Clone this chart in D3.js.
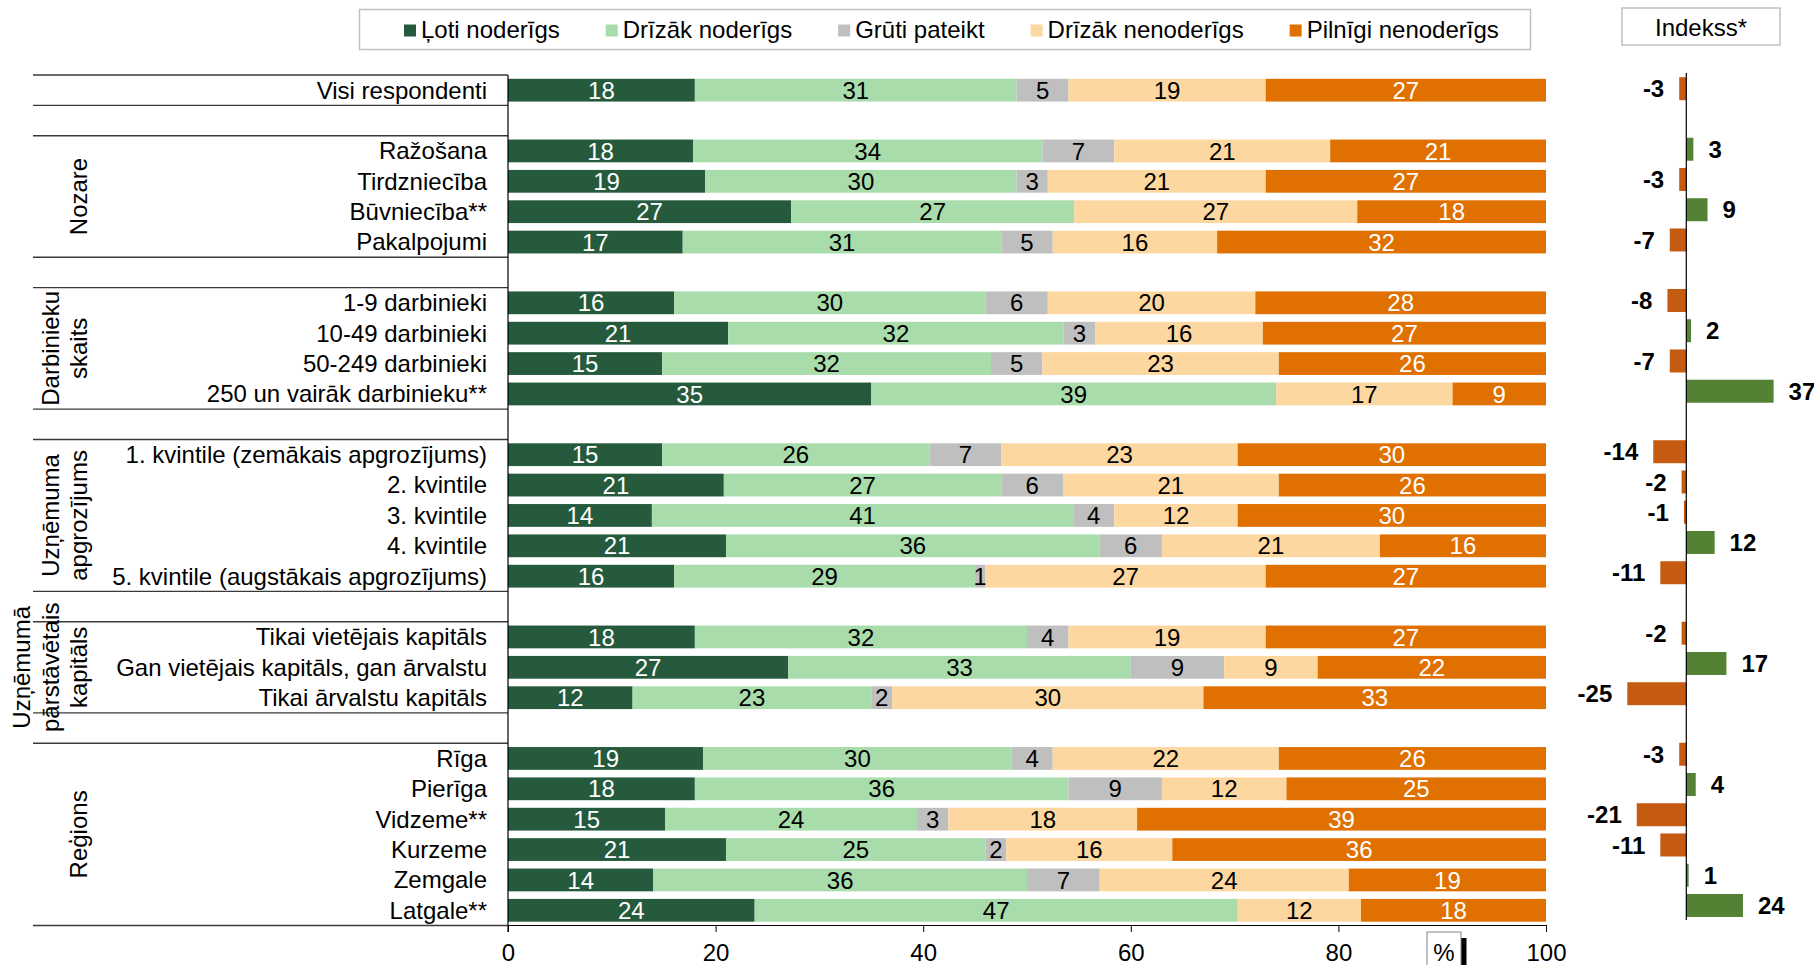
<!DOCTYPE html>
<html><head><meta charset="utf-8">
<script src="https://cdn.jsdelivr.net/npm/d3@7"></script>
<style>
body{margin:0;background:#fff}
svg{display:block}
text{font-family:"Liberation Sans",Arial,sans-serif;fill:#000}
</style>
</head><body>
<svg id="c" width="1814" height="965"></svg>
<script>
// ---------- DATA ----------
const categories = [
  "Visi respondenti",
  "Ražošana", "Tirdzniecība", "Būvniecība**", "Pakalpojumi",
  "1-9 darbinieki", "10-49 darbinieki", "50-249 darbinieki", "250 un vairāk darbinieku**",
  "1. kvintile (zemākais apgrozījums)", "2. kvintile", "3. kvintile", "4. kvintile", "5. kvintile (augstākais apgrozījums)",
  "Tikai vietējais kapitāls", "Gan vietējais kapitāls, gan ārvalstu", "Tikai ārvalstu kapitāls",
  "Rīga", "Pierīga", "Vidzeme**", "Kurzeme", "Zemgale", "Latgale**"
];
const groupTitles = [[], ["Nozare"], ["Darbinieku", "skaits"], ["Uzņēmuma", "apgrozījums"], ["Uzņēmumā", "pārstāvētais", "kapitāls"], ["Reģions"]];
const groupSizes = [1, 4, 4, 5, 3, 6];

const seriesNames = ["Ļoti noderīgs", "Drīzāk noderīgs", "Grūti pateikt", "Drīzāk nenoderīgs", "Pilnīgi nenoderīgs"];
const veryUseful      = [18, 18, 19, 27, 17, 16, 21, 15, 35, 15, 21, 14, 21, 16, 18, 27, 12, 19, 18, 15, 21, 14, 24];
const ratherUseful    = [31, 34, 30, 27, 31, 30, 32, 32, 39, 26, 27, 41, 36, 29, 32, 33, 23, 30, 36, 24, 25, 36, 47];
const hardToSay       = [5, 7, 3, 0, 5, 6, 3, 5, 0, 7, 6, 4, 6, 1, 4, 9, 2, 4, 9, 3, 2, 7, 0];
const ratherUseless   = [19, 21, 21, 27, 16, 20, 16, 23, 17, 23, 21, 12, 21, 27, 19, 9, 30, 22, 12, 18, 16, 24, 12];
const totallyUseless  = [27, 21, 27, 18, 32, 28, 27, 26, 9, 30, 26, 30, 16, 27, 27, 22, 33, 26, 25, 39, 36, 19, 18];
const indexValues     = [-3, 3, -3, 9, -7, -8, 2, -7, 37, -14, -2, -1, 12, -11, -2, 17, -25, -3, 4, -21, -11, 1, 24];
const xTicks = [0, 20, 40, 60, 80, 100];

const seriesColors = ["#255a3d", "#a9dcab", "#bfbfbf", "#fdd7a0", "#e07000"];
const labelColors  = ["#fff", "#000", "#000", "#000", "#fff"];
const posColor = "#548235", negColor = "#c55a11";

// ---------- LAYOUT ----------
const svg = d3.select("#c");
const rowPos = [], groupStart = [];
let p = 0;
groupSizes.forEach(n => { groupStart.push(p); for (let k = 0; k < n; k++) rowPos.push(p++); p++; });
const nRows = p - 1;

const yMain = d3.scaleBand().domain(d3.range(nRows)).range([75, 925.5]).paddingInner(0.25).paddingOuter(0.125);
const yIdx  = d3.scaleBand().domain(d3.range(nRows)).range([73.6, 920.6]).paddingInner(0.24).paddingOuter(0.12);
const x = d3.scaleLinear().domain([0, 100]).range([508, 1546]);
const ix = d3.scaleLinear().domain([-30, 40]).range([1686.3 - 30 * 2.36, 1686.3 + 40 * 2.36]);
const step = yMain.step();
const rowTop = i => 75 + i * step;

const table = categories.map((c, i) => {
  const o = { cat: c, pos: rowPos[i], idx: indexValues[i] };
  [veryUseful, ratherUseful, hardToSay, ratherUseless, totallyUseless].forEach((arr, k) => o[seriesNames[k]] = arr[i]);
  return o;
});
const stacked = d3.stack().keys(seriesNames).offset(d3.stackOffsetExpand)(table);

// ---------- LEGEND ----------
svg.append("rect").attr("x", 359.5).attr("y", 9.5).attr("width", 1171).attr("height", 40)
  .attr("fill", "#fff").attr("stroke", "#c0c0c0").attr("stroke-width", 1.5);
const leg = svg.append("g");
let lx = 0;
seriesNames.forEach((s, k) => {
  const g = leg.append("g").attr("transform", `translate(${lx},0)`);
  g.append("rect").attr("x", 0).attr("y", 24.5).attr("width", 12).attr("height", 12).attr("fill", seriesColors[k]);
  const t = g.append("text").attr("x", 17).attr("y", 29.5).attr("dy", "0.35em").attr("font-size", 24).text(s);
  lx += 17 + t.node().getComputedTextLength() + 46;
});
leg.attr("transform", `translate(${404},0)`);

// Index header
svg.append("rect").attr("x", 1622).attr("y", 8).attr("width", 158).attr("height", 37)
  .attr("fill", "#fff").attr("stroke", "#c0c0c0").attr("stroke-width", 1.5);
svg.append("text").attr("x", 1701).attr("y", 28).attr("dy", "0.35em").attr("text-anchor", "middle")
  .attr("font-size", 24).text("Indekss*");

// ---------- TABLE LINES & GROUP TITLES ----------
const lines = svg.append("g").attr("stroke", "#3a3a3a").attr("stroke-width", 1.4);
groupSizes.forEach((n, g) => {
  const s = groupStart[g];
  [rowTop(s), rowTop(s + n)].forEach(yy => {
    lines.append("line").attr("x1", 33).attr("x2", 508).attr("y1", yy).attr("y2", yy);
  });
  const titles = groupTitles[g];
  const cy = (rowTop(s) + rowTop(s + n)) / 2;
  titles.forEach((t, j) => {
    const xx = 79 - (titles.length - 1 - j) * 28.5;
    svg.append("text").attr("transform", `translate(${xx},${cy}) rotate(-90)`)
      .attr("dy", "0.35em").attr("text-anchor", "middle").attr("font-size", 24).text(t);
  });
});

// category labels
svg.append("g").selectAll("text").data(table).join("text")
  .attr("x", 487).attr("y", d => yMain(d.pos) + yMain.bandwidth() / 2).attr("dy", "0.35em")
  .attr("text-anchor", "end").attr("font-size", 24).text(d => d.cat);

// ---------- STACKED BARS ----------
const barsG = svg.append("g");
stacked.forEach((ser, k) => {
  const g = barsG.append("g");
  g.selectAll("rect").data(ser).join("rect")
    .attr("x", d => x(d[0] * 100)).attr("width", d => x(d[1] * 100) - x(d[0] * 100))
    .attr("y", d => yMain(d.data.pos)).attr("height", yMain.bandwidth())
    .attr("fill", seriesColors[k]);
  g.selectAll("text").data(ser.filter(d => d.data[ser.key] > 0)).join("text")
    .attr("x", d => x((d[0] + d[1]) * 50)).attr("y", d => yMain(d.data.pos) + yMain.bandwidth() / 2)
    .attr("dy", "0.36em").attr("text-anchor", "middle").attr("font-size", 24)
    .style("fill", labelColors[k]).text(d => d.data[ser.key]);
});

// axes
const axis = svg.append("g").attr("transform", "translate(0,925)")
  .call(d3.axisBottom(x).tickValues(xTicks).tickSize(7).tickSizeOuter(0).tickPadding(12));
axis.select(".domain").attr("stroke", "#000");
axis.selectAll(".tick line").attr("stroke", "#000");
axis.selectAll(".tick text").attr("font-size", 24).attr("font-family", "Liberation Sans, Arial, sans-serif").style("fill", "#000");
svg.append("line").attr("x1", 508).attr("x2", 508).attr("y1", 75).attr("y2", 932).attr("stroke", "#000").attr("stroke-width", 1.2);

// % box
svg.append("rect").attr("x", 1461).attr("y", 938).attr("width", 5.5).attr("height", 30).attr("fill", "#000");
svg.append("rect").attr("x", 1427).attr("y", 932).attr("width", 34).attr("height", 40)
  .attr("fill", "#fff").attr("stroke", "#808080").attr("stroke-width", 1);
svg.append("text").attr("x", 1444).attr("y", 953).attr("dy", "0.35em").attr("text-anchor", "middle")
  .attr("font-size", 24).text("%");

// ---------- INDEX ----------
const idxG = svg.append("g");
idxG.selectAll("rect").data(table).join("rect")
  .attr("x", d => ix(Math.min(0, d.idx))).attr("width", d => Math.abs(ix(d.idx) - ix(0)))
  .attr("y", d => yIdx(d.pos)).attr("height", yIdx.bandwidth())
  .attr("fill", d => d.idx >= 0 ? posColor : negColor);
svg.append("line").attr("x1", ix(0)).attr("x2", ix(0)).attr("y1", 73).attr("y2", 920)
  .attr("stroke", "#000").attr("stroke-width", 1.2);
idxG.selectAll("text").data(table).join("text")
  .attr("x", d => d.idx >= 0 ? ix(d.idx) + 15 : ix(d.idx) - 15)
  .attr("y", d => yIdx(d.pos) + yIdx.bandwidth() / 2).attr("dy", "0.36em")
  .attr("text-anchor", d => d.idx >= 0 ? "start" : "end")
  .attr("font-size", 24).attr("font-weight", "bold").text(d => d.idx);
</script>
</body></html>
